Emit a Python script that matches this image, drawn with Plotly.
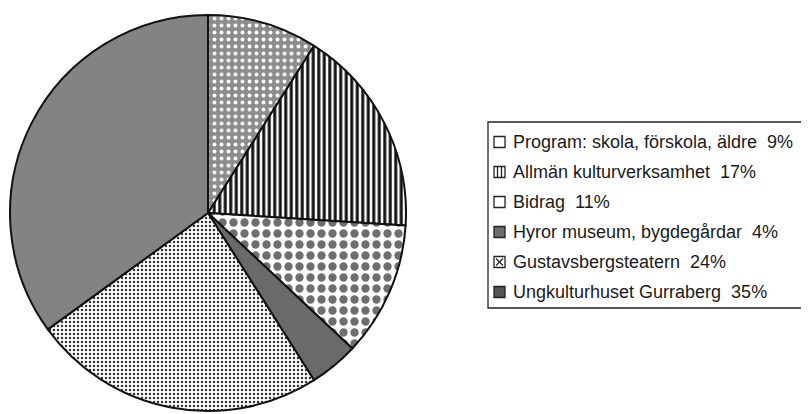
import plotly.graph_objects as go

labels = ["Program: skola, förskola, äldre", "Allmän kulturverksamhet", "Bidrag",
          "Hyror museum, bygdegårdar", "Gustavsbergsteatern", "Ungkulturhuset Gurraberg"]
values = [9, 17, 11, 4, 24, 35]

shapes_p = [".", "|", ".", "", ".", ""]
fg = ["#ffffff", "#111111", "#6e6e6e", "#6a6a6a", "#333333", "#838383"]
bg = ["#8c8c8c", "#ffffff", "#ffffff", "#6a6a6a", "#ffffff", "#838383"]
psize = [7, 5.5, 11, 8, 4, 8]
psol = [0.25, 0.55, 0.45, 0.3, 0.3, 0.3]
icon_fill = ["#ffffff", "#ffffff", "#ffffff", "#6a6a6a", "#ffffff", "#555555"]

# page has an 8px body margin; figure is sized to fit the 809x414 window
W, H = 801, 406
OFF = 8


def px(x):
    return (x - OFF) / W


def py(y):
    return 1 - (y - OFF) / H


fig = go.Figure()
fig.add_trace(go.Pie(
    labels=labels, values=values, sort=False, direction="clockwise", rotation=0,
    textinfo="none", hoverinfo="label+percent", showlegend=False,
    marker=dict(colors=bg, line=dict(color="#111111", width=2),
                pattern=dict(shape=shapes_p, fgcolor=fg, bgcolor=bg, size=psize,
                             solidity=psol, fillmode="replace")),
    domain=dict(x=[px(10), px(406)], y=[py(411), py(15)]),
))

shapes = [dict(type="rect", xref="paper", yref="paper",
               x0=px(488), x1=px(806), y0=py(308), y1=py(122),
               line=dict(color="#222222", width=1.3), fillcolor="rgba(0,0,0,0)")]
annotations = []
y0, step = 142, 30.0
for i, (lab, v) in enumerate(zip(labels, values)):
    yc = y0 + i * step
    shapes.append(dict(type="rect", xref="paper", yref="paper",
                       x0=px(494), x1=px(505), y0=py(yc + 5.5), y1=py(yc - 5.5),
                       line=dict(color="#222222", width=1.3), fillcolor=icon_fill[i]))
    annotations.append(dict(text=f"{lab}  {v}%", xref="paper", yref="paper",
                            x=px(511), y=py(yc), xanchor="left", yanchor="middle",
                            showarrow=False,
                            font=dict(family="Liberation Sans, Arial, sans-serif",
                                      size=18, color="#1a1a1a")))
# inner marks on two legend icons
yc = y0 + step
for xx in (497.5, 501.5):
    shapes.append(dict(type="line", xref="paper", yref="paper",
                       x0=px(xx), x1=px(xx), y0=py(yc + 5.5), y1=py(yc - 5.5),
                       line=dict(color="#222222", width=1.3)))
yc = y0 + 4 * step
shapes.append(dict(type="line", xref="paper", yref="paper",
                   x0=px(496), x1=px(503), y0=py(yc + 3.5), y1=py(yc - 3.5),
                   line=dict(color="#222222", width=1.2)))
shapes.append(dict(type="line", xref="paper", yref="paper",
                   x0=px(496), x1=px(503), y0=py(yc - 3.5), y1=py(yc + 3.5),
                   line=dict(color="#222222", width=1.2)))

fig.update_layout(width=W, height=H, margin=dict(l=0, r=0, t=0, b=0),
                  paper_bgcolor="white", plot_bgcolor="white",
                  shapes=shapes, annotations=annotations)
fig.write_html("out.html")
